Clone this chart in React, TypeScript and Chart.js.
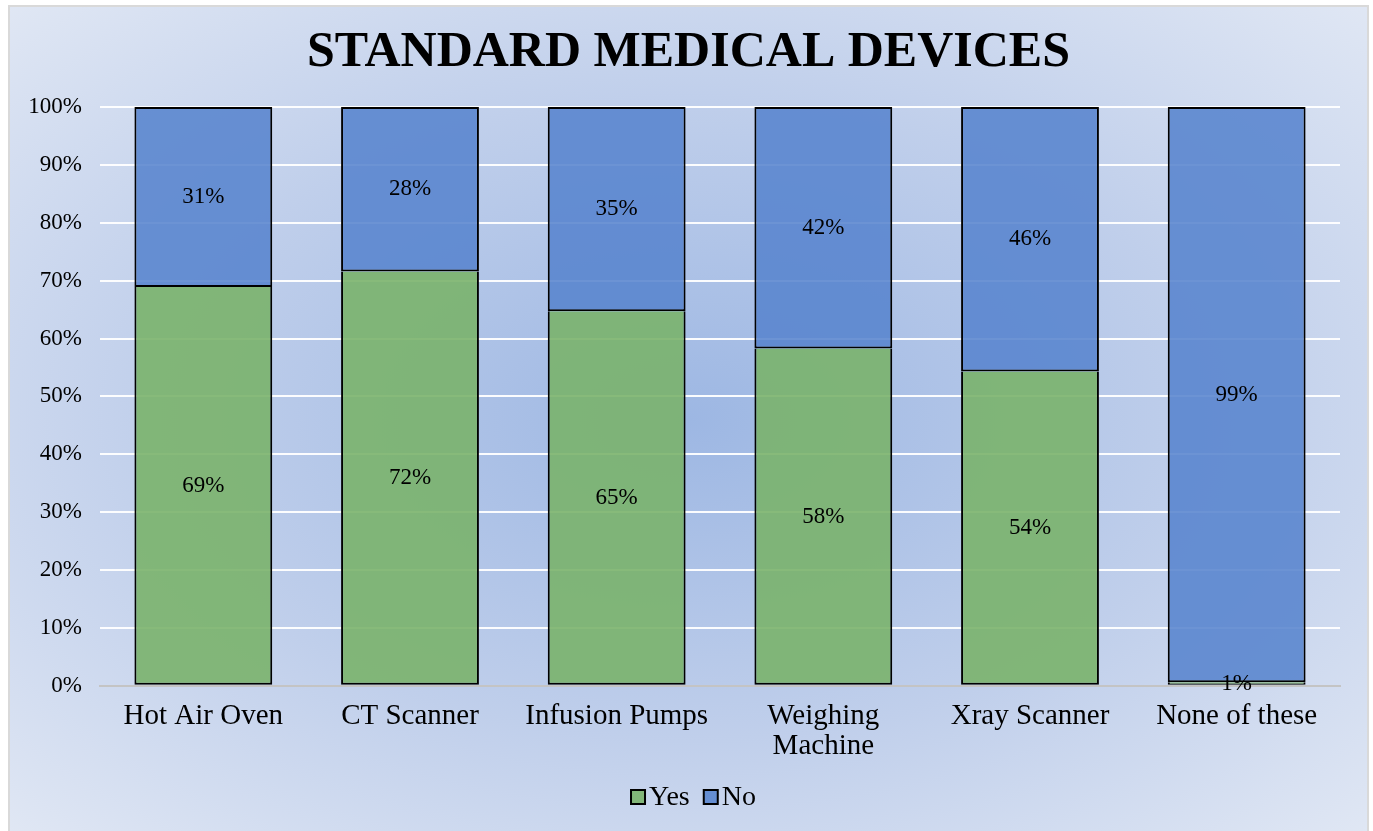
import React, { useEffect, useRef } from "react";
import { Chart, registerables } from "chart.js";

Chart.register(...registerables);

const categories: (string | string[])[] = [
  "Hot Air Oven",
  "CT Scanner",
  "Infusion Pumps",
  ["Weighing", "Machine"],
  "Xray Scanner",
  "None of these",
];
const yesValues = [68.9, 71.6, 64.7, 58.3, 54.3, 0.6];
const noValues = [31.1, 28.4, 35.3, 41.7, 45.7, 99.4];
const titleText = "STANDARD MEDICAL DEVICES";
const seriesNames = ["Yes", "No"];
const seriesColors = ["rgba(122,178,108,0.9)", "rgba(88,132,206,0.88)"];

const FONT = "'Liberation Serif', 'Times New Roman', serif";

const bgPlugin = {
  id: "bgGradient",
  beforeDraw(chart: any) {
    const { ctx, width, height } = chart;
    ctx.save();
    ctx.translate(width / 2, height / 2);
    ctx.scale(width / 2, height / 2);
    const g = ctx.createRadialGradient(0, 0, 0, 0, 0, 1.42);
    g.addColorStop(0, "#9db7e3");
    g.addColorStop(0.55, "#c0cfeb");
    g.addColorStop(1, "#e0e7f4");
    ctx.fillStyle = g;
    ctx.fillRect(-1, -1, 2, 2);
    ctx.restore();
  },
};

const labelPlugin = {
  id: "segLabels",
  afterDatasetsDraw(chart: any) {
    const { ctx } = chart;
    ctx.save();
    ctx.font = `23px ${FONT}`;
    ctx.fillStyle = "#000";
    ctx.textAlign = "center";
    ctx.textBaseline = "middle";
    chart.data.datasets.forEach((ds: any, di: number) => {
      const meta = chart.getDatasetMeta(di);
      meta.data.forEach((el: any, i: number) => {
        const p = el.getProps(["x", "y", "base"], true);
        const v = ds.data[i];
        ctx.fillText(Math.round(v) + "%", p.x, (p.y + p.base) / 2);
      });
    });
    ctx.restore();
  },
};

const legendPlugin = {
  id: "customLegend",
  afterDraw(chart: any) {
    const { ctx, width } = chart;
    ctx.save();
    ctx.font = `28px ${FONT}`;
    ctx.textBaseline = "middle";
    ctx.textAlign = "left";
    const box = 14;
    const gap = 4;
    const between = 14;
    const widths = seriesNames.map((n) => ctx.measureText(n).width);
    let total = 0;
    widths.forEach((w, i) => {
      total += box + gap + w + (i < widths.length - 1 ? between : 0);
    });
    let x = width / 2 + 5 - total / 2;
    const y = 790;
    seriesNames.forEach((n, i) => {
      ctx.fillStyle = seriesColors[i];
      ctx.fillRect(x, y - box / 2, box, box);
      ctx.strokeStyle = "#000";
      ctx.lineWidth = 2;
      ctx.strokeRect(x, y - box / 2, box, box);
      ctx.fillStyle = "#000";
      ctx.fillText(n, x + box + gap, y + 1);
      x += box + gap + widths[i] + between;
    });
    ctx.restore();
  },
};

export default function App() {
  const ref = useRef<HTMLCanvasElement>(null);
  useEffect(() => {
    const chart = new Chart(ref.current!, {
      type: "bar",
      data: {
        labels: categories,
        datasets: [
          {
            label: seriesNames[0],
            data: yesValues,
            backgroundColor: seriesColors[0],
            borderColor: "#000",
            borderWidth: { top: 0, left: 2, right: 2, bottom: 2 },
            borderSkipped: false,
            stack: "s",
          },
          {
            label: seriesNames[1],
            data: noValues,
            backgroundColor: seriesColors[1],
            borderColor: "#000",
            borderWidth: 2,
            borderSkipped: false,
            stack: "s",
          },
        ],
      },
      options: {
        animation: false,
        responsive: false,
        maintainAspectRatio: false,
        layout: { padding: { left: 0, right: 0, top: 0, bottom: 62 } },
        datasets: { bar: { categoryPercentage: 1, barPercentage: 0.667 } },
        scales: {
          x: {
            stacked: true,
            grid: { display: false },
            border: { display: true, color: "#c4c4c4", width: 2 },
            ticks: {
              color: "#000",
              font: { family: FONT, size: 29, lineHeight: 1.02 },
              padding: 8,
              maxRotation: 0,
              autoSkip: false,
            },
          },
          y: {
            stacked: true,
            min: 0,
            max: 100,
            afterFit(scale: any) {
              scale.width = 90;
            },
            grid: {
              color: (c: any) => (c.tick && c.tick.value === 0 ? "rgba(0,0,0,0)" : "rgba(255,255,255,0.95)"),
              lineWidth: 2,
              drawTicks: false,
            },
            border: { display: false },
            ticks: {
              stepSize: 10,
              color: "#000",
              padding: 18,
              font: { family: FONT, size: 23 },
              callback: (v: any) => v + "%",
            },
          },
          spacer: {
            type: "linear",
            position: "right",
            display: true,
            afterFit(scale: any) {
              scale.width = 27;
            },
            grid: { display: false },
            border: { display: false },
            ticks: { display: false },
          },
        },
        plugins: {
          title: {
            display: true,
            text: titleText,
            color: "#000",
            font: { family: FONT, size: 50, weight: "bold" },
            padding: { top: 16, bottom: 24 },
          },
          legend: { display: false },
          tooltip: { enabled: false },
        },
      },
      plugins: [bgPlugin, labelPlugin, legendPlugin],
    });
    return () => chart.destroy();
  }, []);
  return (
    <div
      style={{
        position: "fixed",
        left: 8,
        top: 5,
        width: 1361,
        height: 828,
        border: "2px solid #d9d9d9",
        boxSizing: "border-box",
      }}
    >
      <canvas ref={ref} width={1357} height={824} style={{ display: "block" }} />
    </div>
  );
}
